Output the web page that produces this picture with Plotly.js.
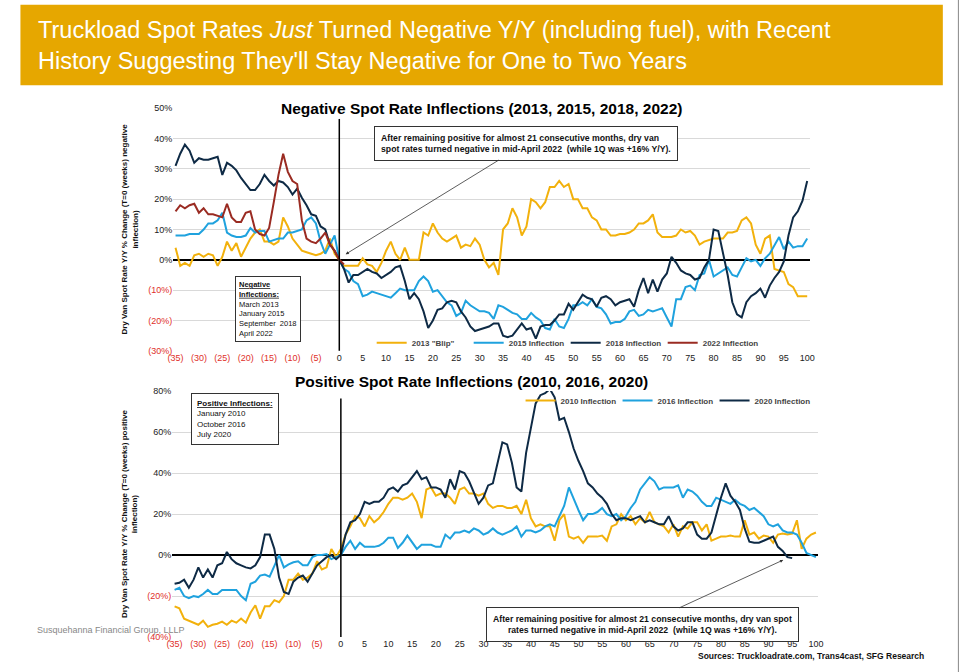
<!DOCTYPE html>
<html>
<head>
<script src="https://cdn.plot.ly/plotly-3.0.1.min.js"></script>
<style>body{margin:0;background:#fff}#chart{width:973px;height:672px}</style>
</head>
<body>
<div id="chart"></div>
<script>
// weekly values, week -35 .. 100 (T=0 is the inflection week)
const START_WEEK = -35;
const blip2013 = [4,-2,-1,-2,1.5,2,1,2,1.5,-2,1,6,3,5.5,1,4,7,9,10,6,6,5,6,14,11,7,5,3,2.5,2,1.5,2,3,7,2,0,
  -2,-2,-2,-2,0.5,-1.5,-2,-4,-1,3,6,2,0,4,0,0,0,9,8,12,9,7,6,7,8,4,5,4.5,7,5,0,-2.5,-1,-5,10,12,17,14,8,11,20,19,17,19,
  24,24,26,24,25,20,20,17,17,14,13,10,10,8,8,8.5,8.5,9,10,12,12,13,15,9,7.5,7.5,7.5,8,10,9,9.5,8,5,6,6.5,7,7,7,9,9,
  9.5,13,14,12,5,2,7,8,-3,-3.5,-4,-8,-9,-12,-12,-12];
const infl2015 = [8,8,8,8.5,8.5,8.5,10,12,12,13,15.5,9,8,7.5,7.5,8,10.5,9,9.5,9.5,6,6.5,7,7,9,9,9.5,10,13,14,12,6,2,5,8,0,
  -3,-4,-7,-8,-12,-11.5,-10.5,-11,-11.5,-12,-12.5,-11,-9.5,-10,-10,-10,-7,-5.5,-7,-10.5,-10,-12,-14,-15,-18.5,-17.5,-13.5,-15,-16,-17,
  -17,-17.5,-19.5,-15,-15.5,-16.5,-17.5,-18,-19.5,-19.5,-17.5,-19,-20,-22.5,-23,-19.5,-22,-22.5,-19.5,-15,-15,-14,-15,-13,-15.5,-16,
  -18,-21,-20.5,-20.5,-19.5,-17,-16.5,-18.5,-18,-16.5,-17,-16.5,-16,-19,-22,-13,-13,-9,-8.5,-10,-5,-4.5,0,-5.5,-4.5,-3.5,-2.5,-5,
  -5.5,-2.5,0.5,-0.5,0,-2,0.5,2,5,7.5,3.5,6,4,4.5,4.5,7];
const infl2018 = [31,35,38,36,32,33.5,33,33,33.5,34,28,32,31,29.5,27,25,23,23,25,28,26,24.5,26,25.5,24,21.5,23.5,20.5,18,15,14.5,11,10,5,3,0,
  -3,-7.5,-5,-5,-4,-3,-4,-4.5,-6,-5,-4,-2.5,-2,-7,-13,-11,-13,-17,-22.5,-20,-16.5,-16,-14,-13.5,-14,-17,-19,-22,-23.5,-23,
  -22.5,-22,-21,-21,-25,-25.5,-25,-23,-21,-23,-22.5,-26,-22,-21.5,-21.5,-20,-18,-18,-14.5,-16.5,-14,-11.5,-12.5,-13,-15.5,-12.5,
  -12,-13,-15,-14,-13.5,-13,-15.5,-10,-6,-11,-6.5,-10.5,-6.5,-4.5,1,-1,-3.5,-4.5,-5,-6.5,-6,-2.5,0,10,9.5,2,-5,-14,
  -18,-19,-14,-12,-11,-9.5,-12.5,-8.5,-6,-4,-0.5,8,14,16,19.5,26];
const infl2022 = [16,18,17,18,18.5,15.5,17,15,15,14.5,14,18.5,14,12.5,12.5,15.5,16,10,8.5,8,10.5,19,28,35,29,26,25,13,7,6,5.5,7,9,5,3,0,-1.5];

const infl2010 = [-25,-26,-31,-32,-33,-34,-32,-35,-34,-33.5,-32.5,-34,-32,-33,-31,-33,-28,-24.5,-31,-25,-25,-22,-23,-20,-12,-12,-9,-12,-11,-9,-3,-7,-6,3,-1,3,
  10,14,19,18,14,19,16,18,21,25,28,28,27,28,30,26,18,32,33,29,30,30,28,25,32,33,30,30,29,30,25,23,24,24,23,23,24,20,27,18,
  14,15,14,14,7,17,20,9,8,9,6,9,9,9,9.5,7,14,15,20,17,19,15,18,16,21,16,15,14,11,15,9,14,13,16,16,12,15,7,8,9,
  9,9.5,9,9,17,10,11,8,9.5,9,6,10,10.5,10,10.5,17,3,8,10,11];
const infl2016 = [-17,-16,-20,-21,-20,-20.5,-19,-17,-19,-19,-17,-17,-17,-17,-20,-22,-14,-13,-10,-9.5,-10.5,-5,0,-6,-4.5,-3.5,-3,-5,-5,-1,0,0,0.5,-2,-1,0,
  4,7,3,6,4,4,4,4.5,6,8.5,8.5,3.5,6,9.5,6,3,5,5,5,4,4,10,8,11,11,12,11,13,12,10,11,13,11,10,11,12,14,9,12,12,
  11,12,14,15,14,19,24,33,27,22,17,20,20,21,23,20,19,20,17,19,23,26,32,35,38,36,32,33,33,33,34,28,32,31,29,26,24,24,28,27,
  26,25,27,25,24,22,23,21,19,15,14,15,12,11,11,10,6,1,0,-1];
const infl2020 = [-14,-13.5,-12,-16,-12,-6,-11,-7,-11,-5,-4,1.5,-2,-4,-5,-6,-6.5,-5,-1,10,10,3,-11,-18,-19,-13,-11,-10,-13,-9,-5,-3,-1,0,-2,0,
  10,16,17,20,26,25,26,26,28,32,33,31,34,35,38,41,37,38,33,33,32,28,37,32,41,40,36,30,25,28,34,35,45,55,54,45,33,31,50,63,
  74,78,79,81,77,66,67,60,52,46,41,35,33,30,28,25,20,17,18,18,17,18,19,16,17,16,15,15,19,14,12,13,16,16,10,8,8,11,20,28,
  35,29,26,22,13,6.5,6,6,7,8,9,4,2,-1,-1.5];

const xTicks = [-35,-30,-25,-20,-15,-10,-5,0,5,10,15,20,25,30,35,40,45,50,55,60,65,70,75,80,85,90,95,100];
const yTop = [-30,-20,-10,0,10,20,30,40,50];
const yBot = [-40,-20,0,20,40,60,80];

function weeks(arr) { return arr.map((_, i) => START_WEEK + i); }
function xTickText(v) { return v < 0 ? `<span style="color:#e0302a">(${-v})</span>` : String(v); }
function yTickText(v) { return v < 0 ? `<span style="color:#e0302a">(${-v}%)</span>` : v + '%'; }

const GOLD = '#f2b10c', BLUE = '#1fa2de', NAVY = '#0e2a45', RED = '#9a2b22';
const NARROW = 'Liberation Sans Narrow, Arial Narrow, sans-serif';

function line(y, name, color, xa, ya, legend) {
  return { x: weeks(y), y: y, name: '<b>' + name + '</b>', type: 'scatter', mode: 'lines',
    line: { color: color, width: 2 }, xaxis: xa, yaxis: ya, legend: legend };
}

const data = [
  line(blip2013, '2013 "Blip"', GOLD, 'x', 'y', 'legend'),
  line(infl2015, '2015 Inflection', BLUE, 'x', 'y', 'legend'),
  line(infl2018, '2018 Inflection', NAVY, 'x', 'y', 'legend'),
  line(infl2022, '2022 Inflection', RED, 'x', 'y', 'legend'),
  line(infl2010, '2010 Inflection', GOLD, 'x2', 'y2', 'legend2'),
  line(infl2016, '2016 Inflection', BLUE, 'x2', 'y2', 'legend2'),
  line(infl2020, '2020 Inflection', NAVY, 'x2', 'y2', 'legend2'),
];

const tickFont = { family: NARROW, size: 9, color: '#222' };
const noteFont = { size: 8.7, family: NARROW, color: '#111' };

function xAxis(domain, anchor) {
  return { domain: domain, anchor: anchor, range: [-35.5, 100.5], tickvals: xTicks, ticktext: xTicks.map(xTickText),
    showgrid: false, zeroline: false, ticks: '', tickfont: tickFont, showline: false };
}
function yAxis(domain, anchor, vals, range, title) {
  return { domain: domain, anchor: anchor, range: range, tickvals: vals, ticktext: vals.map(yTickText),
    gridcolor: '#d9d9d9', zeroline: true, zerolinecolor: '#000', zerolinewidth: 2, tickfont: tickFont,
    title: { text: title, font: { size: 8, color: '#111', family: 'Liberation Sans' }, standoff: 8 } };
}

const layout = {
  width: 973, height: 672, margin: { l: 0, r: 0, t: 0, b: 0 },
  paper_bgcolor: '#fff', plot_bgcolor: '#fff', showlegend: true,
  font: { family: 'Liberation Sans, Arial, sans-serif' },
  xaxis: xAxis([0.178, 0.832], 'y'),
  yaxis: yAxis([0.478, 0.839], 'x', yTop, [-30, 50], '<b>Dry Van Spot Rate Y/Y % Change (T=0 (weeks) negative<br>inflection)</b>'),
  xaxis2: xAxis([0.177, 0.841], 'y2'),
  yaxis2: yAxis([0.052, 0.418], 'x2', yBot, [-40, 80], '<b>Dry Van Spot Rate Y/Y % Change (T=0 (weeks) positive<br>inflection)</b>'),
  legend: { orientation: 'h', x: 0.382, y: 0.49, xanchor: 'left', yanchor: 'middle', bgcolor: 'rgba(0,0,0,0)',
    font: { size: 8, family: NARROW }, itemwidth: 30, entrywidth: 52 },
  legend2: { orientation: 'h', x: 0.535, y: 0.404, xanchor: 'left', yanchor: 'middle', bgcolor: 'rgba(0,0,0,0)',
    font: { size: 8, family: NARROW }, itemwidth: 30, entrywidth: 52 },
  shapes: [
    { type: 'rect', xref: 'paper', yref: 'paper', x0: 0.021, x1: 0.969, y0: 0.873, y1: 0.993, fillcolor: '#e6a700', line: { width: 0 } },
    { type: 'line', xref: 'x', yref: 'paper', x0: 0, x1: 0, y0: 0.478, y1: 0.823, line: { color: '#000', width: 1.5 } },
    { type: 'line', xref: 'x2', yref: 'paper', x0: 0, x1: 0, y0: 0.052, y1: 0.407, line: { color: '#000', width: 1.5 } },
    { type: 'line', xref: 'paper', yref: 'paper', x0: 0.985, x1: 0.985, y0: 0, y1: 1, line: { color: '#888', width: 1 } },
  ],
  annotations: [
    { xref: 'paper', yref: 'paper', x: 0.037, y: 0.933, xanchor: 'left', yanchor: 'middle', align: 'left', showarrow: false,
      text: 'Truckload Spot Rates <i>Just</i> Turned Negative Y/Y (including fuel), with Recent<br>History Suggesting They\'ll Stay Negative for One to Two Years',
      font: { size: 23.5, color: '#fff', family: 'Liberation Sans, Arial' } },
    { xref: 'paper', yref: 'paper', x: 0.495, y: 0.854, showarrow: false,
      text: '<b>Negative Spot Rate Inflections (2013, 2015, 2018, 2022)</b>', font: { size: 15.5, color: '#000' } },
    { xref: 'paper', yref: 'paper', x: 0.485, y: 0.433, showarrow: false,
      text: '<b>Positive Spot Rate Inflections (2010, 2016, 2020)</b>', font: { size: 15.5, color: '#000' } },
    { xref: 'x', yref: 'y', x: 1, y: 1.5, ax: 40, ay: 38.5, axref: 'x', ayref: 'y', showarrow: true, arrowhead: 2, arrowsize: 0.8,
      arrowwidth: 0.8, standoff: 2,
      text: '<b>After remaining positive for almost 21 consecutive months, dry van<br>spot rates turned negative in mid-April 2022  (while 1Q was +16% Y/Y).</b>',
      font: noteFont, align: 'left', bordercolor: '#333', borderwidth: 1, borderpad: 6, bgcolor: '#fff' },
    { xref: 'x', yref: 'y', x: -22.3, y: -5.3, xanchor: 'left', yanchor: 'top', showarrow: false, align: 'left',
      text: '<b><u>Negative</u></b><br><b><u>Inflections:</u></b><br>March 2013<br>January 2015<br>September  2018<br>April 2022',
      font: { size: 7.5, family: NARROW, color: '#111' }, bordercolor: '#333', borderwidth: 1, borderpad: 3, bgcolor: '#fff' },
    { xref: 'x2', yref: 'y2', x: -31.5, y: 79, xanchor: 'left', yanchor: 'top', showarrow: false, align: 'left',
      text: '<b><u>Positive Inflections:</u></b><br>January 2010<br>October 2016<br>July 2020',
      font: { size: 8, family: NARROW, color: '#111' }, bordercolor: '#333', borderwidth: 1, borderpad: 5, bgcolor: '#fff' },
    { xref: 'x2', yref: 'y2', x: 93.5, y: -2, ax: 63.5, ay: -34, axref: 'x2', ayref: 'y2', showarrow: true, arrowhead: 2, arrowsize: 0.8,
      arrowwidth: 0.8, standoff: 2,
      text: '<b>After remaining positive for almost 21 consecutive months, dry van spot<br>rates turned negative in mid-April 2022  (while 1Q was +16% Y/Y).</b>',
      font: noteFont, align: 'center', bordercolor: '#333', borderwidth: 1, borderpad: 6, bgcolor: '#fff' },
    { xref: 'paper', yref: 'paper', x: 0.036, y: 0.052, xanchor: 'left', showarrow: false,
      text: 'Susquehanna Financial Group, LLLP', font: { size: 9, color: '#888' } },
    { xref: 'paper', yref: 'paper', x: 0.952, y: 0.013, xanchor: 'right', showarrow: false,
      text: '<b>Sources: Truckloadrate.com, Trans4cast, SFG Research</b>', font: { size: 8.5, color: '#111', family: NARROW } },
  ],
};

Plotly.newPlot('chart', data, layout, { displayModeBar: false, staticPlot: true });
</script>
</body>
</html>
